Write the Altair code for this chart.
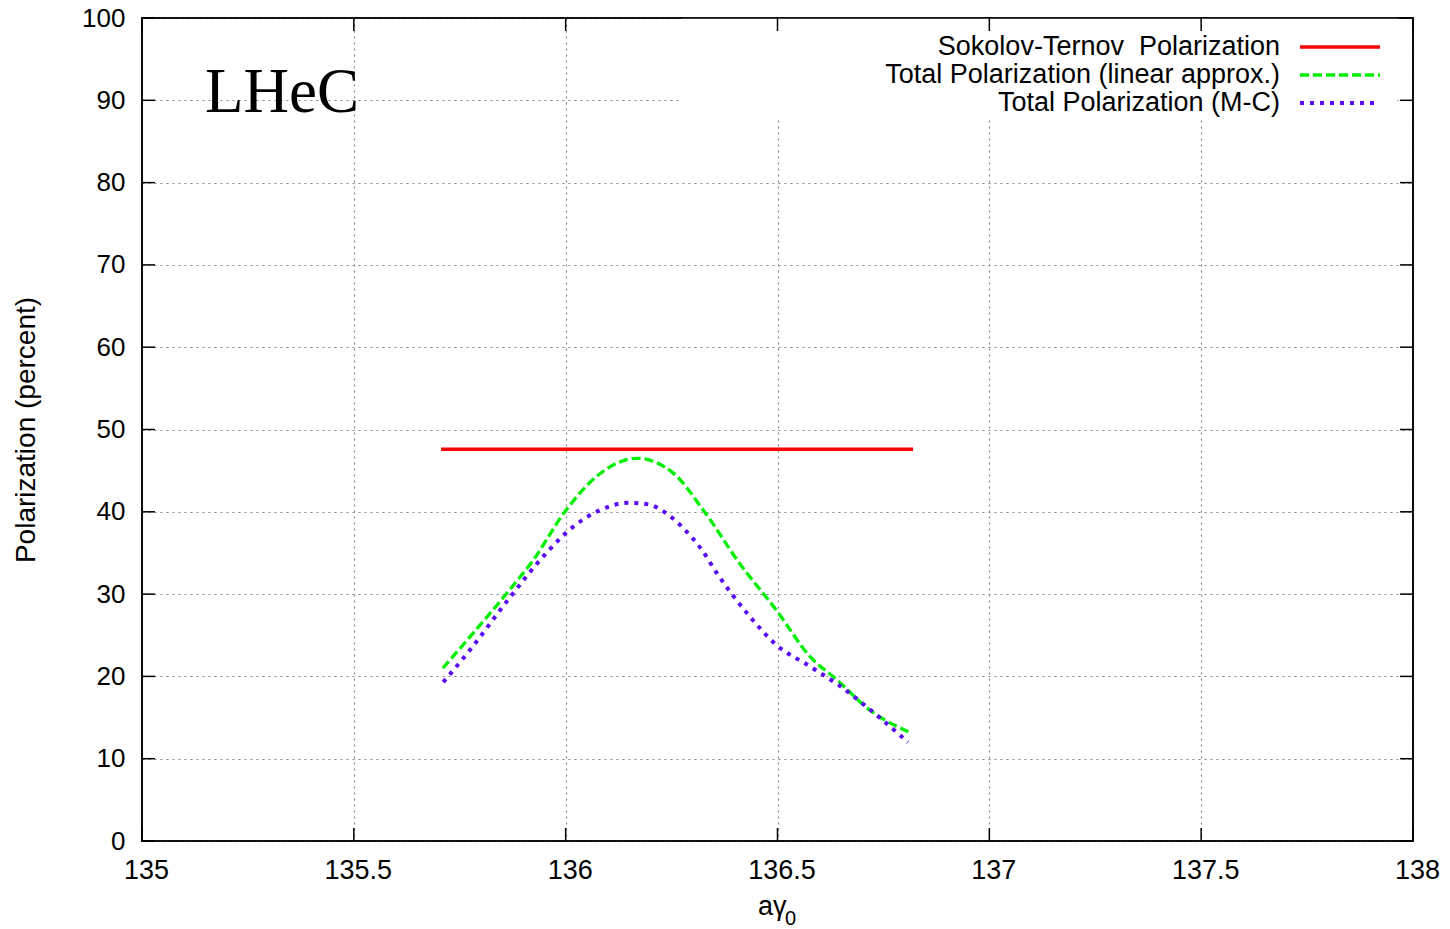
import altair as alt
import pandas as pd

# ---- data ----
st_x = [135.706, 136.82]
st_y = [47.6, 47.6]

lin_x = [135.71, 135.774, 135.861, 135.923, 135.998, 136.073, 136.168, 136.254,
         136.325, 136.411, 136.498, 136.577, 136.640, 136.718, 136.817]
lin_y = [21.0, 24.8, 30.1, 34.1, 40.0, 44.3, 46.5, 44.7,
         40.2, 33.7, 28.0, 22.4, 19.6, 15.9, 13.1]

mc_x = [135.711, 135.774, 135.861, 135.951, 136.018, 136.081, 136.148, 136.195,
        136.238, 136.274, 136.321, 136.360, 136.388, 136.431, 136.498, 136.577,
        136.640, 136.734, 136.808]
mc_y = [19.3, 23.2, 29.1, 34.8, 38.2, 40.2, 41.1, 40.9,
        39.8, 38.2, 35.4, 32.3, 30.3, 27.5, 23.8, 21.2,
        19.1, 15.3, 12.0]

x_ticks = [135, 135.5, 136, 136.5, 137, 137.5, 138]
y_ticks = [0, 10, 20, 30, 40, 50, 60, 70, 80, 90, 100]

legend_labels = ["Sokolov-Ternov\u00a0 Polarization",
                 "Total Polarization (linear approx.)",
                 "Total Polarization (M-C)"]
legend_colors = ["#ff0000", "#00ee00", "#5a0cf5"]

W, H = 1271, 823
FONT = "Liberation Sans"

xscale = alt.Scale(domain=[135, 138], nice=False, zero=False)
yscale = alt.Scale(domain=[0, 100], nice=False, zero=False)

xaxis = alt.Axis(values=x_ticks, format="~g", grid=True, gridColor="#888888",
                 gridDash=[2, 4], gridWidth=1.2, ticks=False, tickSize=0, domain=False,
                 labelFont=FONT, labelFontSize=27, labelColor="black", labelFlush=False,
                 labelPadding=16, labelBaseline="top", labelOffset=4, title="")
yaxis = alt.Axis(values=y_ticks, grid=True, gridColor="#888888",
                 gridDash=[2, 4], gridWidth=1.2, ticks=False, tickSize=0, domain=False,
                 labelFont=FONT, labelFontSize=26, labelColor="black", labelFlush=False,
                 labelPadding=17, title="Polarization (percent)",
                 titleFont=FONT, titleFontSize=28, titleFontWeight="normal",
                 titleColor="black", titleX=-116, titleY=411.5, titleBaseline="middle",
                 titleAngle=270)


def X(f):
    return alt.X(f, type="quantitative", scale=xscale, axis=xaxis)


def Y(f):
    return alt.Y(f, type="quantitative", scale=yscale, axis=yaxis)


one = pd.DataFrame({"k": [0]})

# white box behind legend (covers the grid like gnuplot's key box)
box = alt.Chart(one).mark_rect(fill="white").encode(
    x=alt.value(540), x2=alt.value(1255), y=alt.value(0), y2=alt.value(99))

st_df = pd.DataFrame({"x": st_x, "y": st_y})
lin_df = pd.DataFrame({"x": lin_x, "y": lin_y})
mc_df = pd.DataFrame({"x": mc_x, "y": mc_y})

st_line = alt.Chart(st_df).mark_line(color=legend_colors[0], strokeWidth=3.3).encode(
    x=X("x"), y=Y("y"))
lin_line = alt.Chart(lin_df).mark_line(color=legend_colors[1], strokeWidth=3.3,
                                       strokeDash=[9, 4], interpolate="monotone").encode(
    x=X("x"), y=Y("y"))
mc_line = alt.Chart(mc_df).mark_line(color=legend_colors[2], strokeWidth=4,
                                     strokeDash=[4, 6], interpolate="monotone").encode(
    x=X("x"), y=Y("y"))

xt = pd.DataFrame({"x": x_ticks})
yt = pd.DataFrame({"y": y_ticks})
tick_style = dict(color="black", strokeWidth=1.5)
bt = alt.Chart(xt).mark_rule(**tick_style).encode(x=X("x"), y=alt.value(H), y2=alt.value(H - 13))
tt = alt.Chart(xt).mark_rule(**tick_style).encode(x=X("x"), y=alt.value(0), y2=alt.value(13))
lt = alt.Chart(yt).mark_rule(**tick_style).encode(y=Y("y"), x=alt.value(0), x2=alt.value(13))
rt = alt.Chart(yt).mark_rule(**tick_style).encode(y=Y("y"), x=alt.value(W - 13), x2=alt.value(W))

# plot border drawn on top
border = alt.Chart(one).mark_rect(fillOpacity=0, stroke="black", strokeWidth=1.6).encode(
    x=alt.value(0), x2=alt.value(W), y=alt.value(0), y2=alt.value(H))

layers = [box, st_line, lin_line, mc_line, bt, tt, lt, rt, border]

# legend
row_y = [29, 57, 85]
dashes = [None, [9, 4], [4, 6]]
widths = [3.3, 3.3, 4]
for i, lab in enumerate(legend_labels):
    layers.append(alt.Chart(one).mark_text(text=lab, font=FONT, fontSize=27, align="right",
                                           baseline="middle", color="black").encode(
        x=alt.value(1138), y=alt.value(row_y[i])))
    kw = dict(color=legend_colors[i], strokeWidth=widths[i])
    if dashes[i] is not None:
        kw["strokeDash"] = dashes[i]
    layers.append(alt.Chart(one).mark_rule(**kw).encode(
        x=alt.value(1158), x2=alt.value(1238), y=alt.value(row_y[i])))

# LHeC label
layers.append(alt.Chart(one).mark_text(text="LHeC", font="Liberation Serif", fontSize=63,
                                       align="left", baseline="alphabetic", color="black").encode(
    x=alt.value(63), y=alt.value(94)))

# x axis title a gamma_0
layers.append(alt.Chart(one).mark_text(text="a\u03b3", font=FONT, fontSize=27, align="left",
                                       baseline="alphabetic", color="black").encode(
    x=alt.value(616), y=alt.value(897)))
layers.append(alt.Chart(one).mark_text(text="0", font=FONT, fontSize=20, align="left",
                                       baseline="alphabetic", color="black").encode(
    x=alt.value(643), y=alt.value(907)))

chart = alt.layer(*layers).properties(
    width=W, height=H,
    autosize=alt.AutoSizeParams(type="none"),
    padding={"left": 142, "top": 18, "right": 37, "bottom": 88},
    background="white",
).configure_view(stroke="black", strokeWidth=1.6)

chart.save("out.html", embed_options={"renderer": "svg", "actions": False})
